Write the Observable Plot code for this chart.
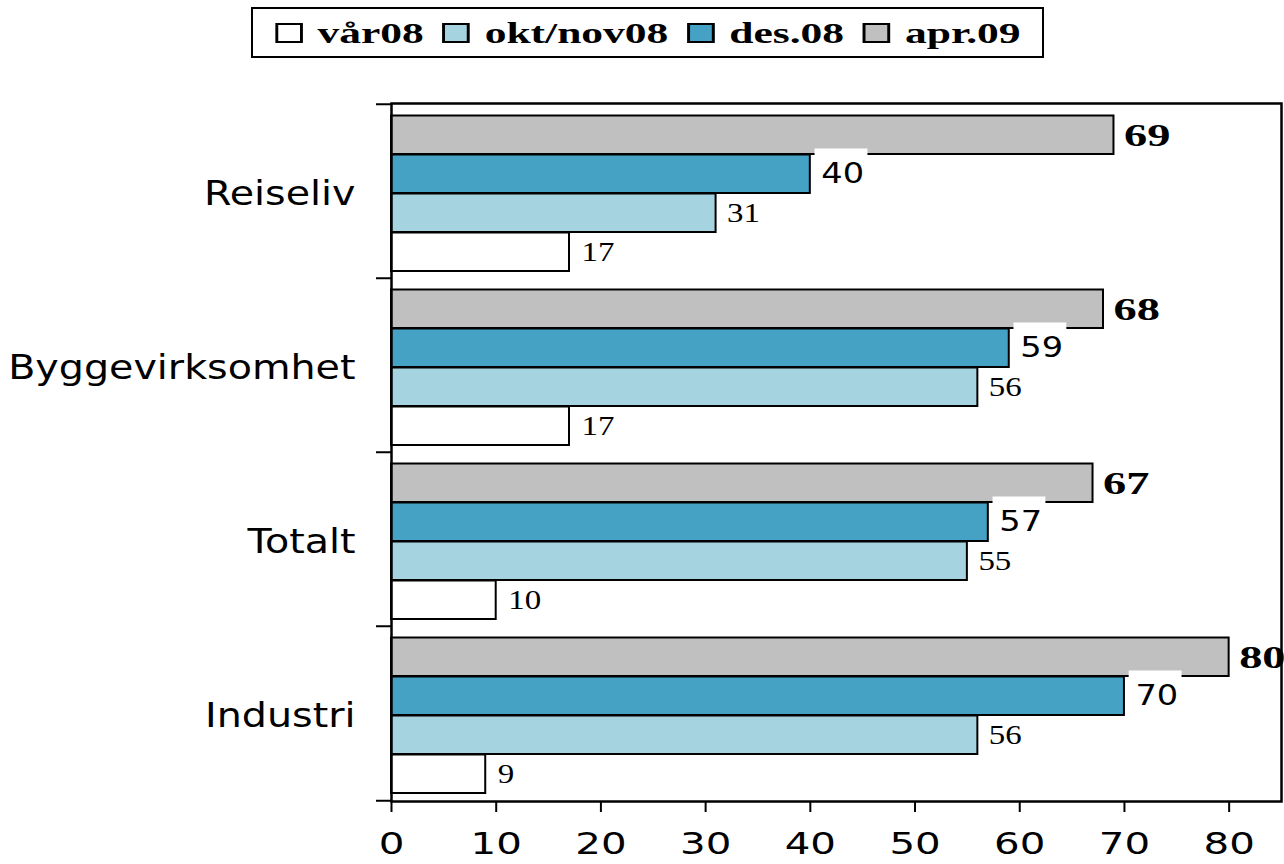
<!DOCTYPE html>
<html>
<head>
<meta charset="utf-8">
<script src="https://cdn.jsdelivr.net/npm/d3@7"></script>
<script src="https://cdn.jsdelivr.net/npm/@observablehq/plot@0.6"></script>
<style>
  body { margin: 0; background: #fff; }
  #wrap { position: relative; width: 1284px; height: 80px; }
  #legend { position: absolute; left: 251px; top: 7px; width: 789px; height: 47px;
            border: 2.5px solid #000; display: flex; align-items: center; justify-content: center; overflow: hidden; }
  #inner { display: flex; align-items: center; white-space: nowrap;
           font: bold 30px "Liberation Serif", serif; color: #000; transform: scaleX(1.45); }
  .it { display: flex; align-items: center; }
  .sw { display: inline-block; width: 15px; height: 16px; border: 2px solid #000; margin-right: 10px; box-sizing: content-box; }
</style>
</head>
<body>
<div id="wrap"><div id="legend"><div id="inner"></div></div></div>
<div id="chart"></div>
<script>
// ---- data ----
const categories = ["Reiseliv", "Byggevirksomhet", "Totalt", "Industri"];
const seriesNames = ["apr.09", "des.08", "okt/nov08", "vår08"];   // top to bottom inside each group
const apr09    = [69, 68, 67, 80];
const des08    = [40, 59, 57, 70];
const oktnov08 = [31, 56, 55, 56];
const vaar08   = [17, 17, 10, 9];
const legendOrder = ["vår08", "okt/nov08", "des.08", "apr.09"];
const xTicks = [0, 10, 20, 30, 40, 50, 60, 70, 80];

const seriesValues = {"apr.09": apr09, "des.08": des08, "okt/nov08": oktnov08, "vår08": vaar08};
const colors = {"vår08": "#ffffff", "okt/nov08": "#a6d3e0", "des.08": "#45a2c5", "apr.09": "#c0c0c0"};

// ---- legend ----
const inner = document.getElementById("inner");
legendOrder.forEach((s, i) => {
  const it = document.createElement("span");
  it.className = "it";
  if (i < legendOrder.length - 1) it.style.marginRight = "13px";
  const sw = document.createElement("span");
  sw.className = "sw";
  sw.style.background = colors[s];
  const tx = document.createElement("span");
  tx.textContent = s;
  it.appendChild(sw); it.appendChild(tx);
  inner.appendChild(it);
});

// ---- geometry ----
const W = 1284, H = 784, mt = 23, mb = 63, ml = 391, mr = 3;
const step = (H - mt - mb) / categories.length;
const barH = 39, padTop = 11.5;
const off = i => padTop + i * barH;

const rowsFor = s => categories.map((c, k) => ({category: c, value: seriesValues[s][k]}));

const marks = [];
seriesNames.forEach((s, i) => {
  marks.push(Plot.barX(rowsFor(s), {
    y: "category", x: "value", fill: colors[s], stroke: "#000", strokeWidth: 2,
    insetTop: off(i), insetBottom: step - off(i) - barH
  }));
});
// white label background boxes behind des.08 labels
marks.push(Plot.barX(rowsFor("des.08"), {
  y: "category", x1: d => d.value + 0.45, x2: d => d.value + 5.5, fill: "white",
  insetTop: off(1) - 6, insetBottom: step - off(1) - barH + 3
}));
const labelStyle = {
  "apr.09": {fontFamily: "Liberation Serif", fontWeight: "bold", fontSize: 32, dx: 10},
  "des.08": {fontFamily: "DejaVu Sans", fontWeight: "normal", fontSize: 28, dx: 11},
  "okt/nov08": {fontFamily: "Liberation Serif", fontWeight: "normal", fontSize: 27, dx: 11},
  "vår08": {fontFamily: "Liberation Serif", fontWeight: "normal", fontSize: 27, dx: 12}
};
seriesNames.forEach((s, i) => {
  const st = labelStyle[s];
  marks.push(Plot.text(rowsFor(s), {
    y: "category", x: "value", text: d => String(d.value),
    dy: off(i) + barH / 2 - step / 2, dx: st.dx, textAnchor: "start",
    fontFamily: st.fontFamily, fontWeight: st.fontWeight, fontSize: st.fontSize,
    fill: "#000"
  }));
});

marks.push(Plot.axisY({tickSize: 0, tickPadding: 36, fontSize: 33, fontFamily: "DejaVu Sans", dy: 3, label: null, fill: "#000"}));
marks.push(Plot.axisY({tickSize: 15, tickFormat: () => "", dy: -step / 2, strokeWidth: 2, label: null, stroke: "#000"}));
marks.push(Plot.axisY({ticks: [categories[categories.length - 1]], tickSize: 15, tickFormat: () => "", dy: step / 2, strokeWidth: 2, label: null, stroke: "#000"}));
marks.push(Plot.axisX({ticks: xTicks, tickSize: 11, tickPadding: 19, fontSize: 31, fontFamily: "DejaVu Sans", strokeWidth: 2, label: null, stroke: "#000", fill: "#000"}));
marks.push(Plot.frame({stroke: "#000", strokeWidth: 2.5}));

const plot = Plot.plot({
  width: W, height: H,
  marginTop: mt, marginBottom: mb, marginLeft: ml, marginRight: mr,
  style: {background: "white", color: "black", overflow: "visible"},
  x: {domain: [0, 85], label: null},
  y: {domain: categories, padding: 0, label: null},
  marks
});
document.getElementById("chart").appendChild(plot);

// horizontal stretch of the texts to match the reference's wide glyphs
function factorFor(t) {
  const g = t.closest("g");
  const aria = (g && g.getAttribute("aria-label")) || "";
  if (aria.includes("y-axis")) return 1.2;
  if (aria.includes("x-axis")) return 1.3;
  let fs = null, fw = null, el = t;
  while (el && el !== plot) {
    if (fs == null && el.getAttribute && el.getAttribute("font-size")) fs = parseFloat(el.getAttribute("font-size"));
    if (fw == null && el.getAttribute && el.getAttribute("font-weight")) fw = el.getAttribute("font-weight");
    el = el.parentNode;
  }
  if (fw === "bold") return 1.45;
  if (fs === 28) return 1.2;
  if (fs === 27) return 1.22;
  return 1;
}
plot.querySelectorAll("text").forEach(t => {
  const f = factorFor(t);
  const w = t.getComputedTextLength();
  if (f !== 1 && w > 0) {
    t.setAttribute("textLength", (w * f).toFixed(1));
    t.setAttribute("lengthAdjust", "spacingAndGlyphs");
  }
});
</script>
</body>
</html>
